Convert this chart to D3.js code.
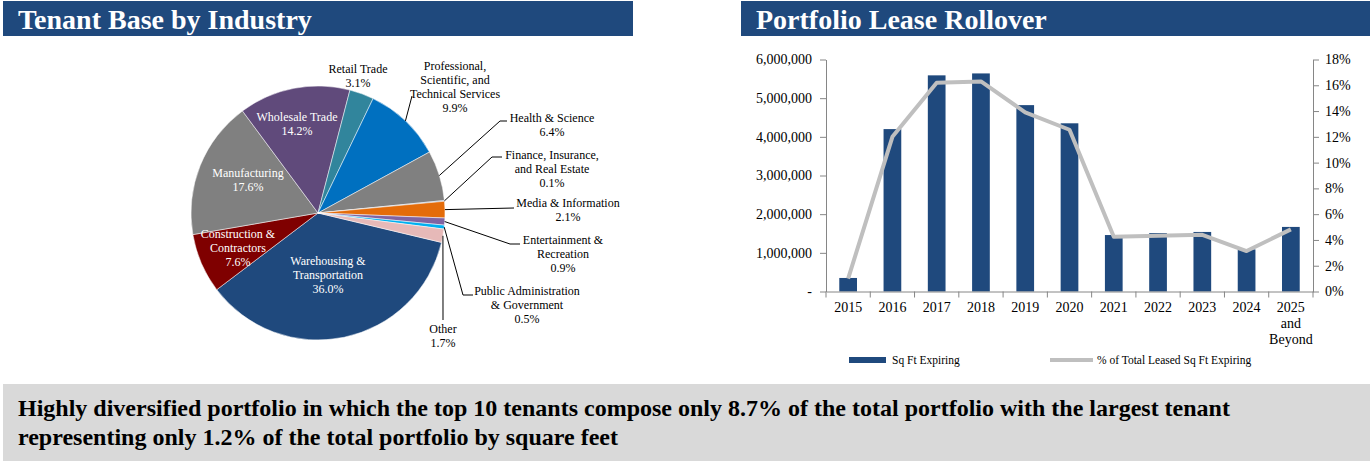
<!DOCTYPE html>
<meta charset="utf-8">
<style>
html, body { margin: 0; padding: 0; overflow: hidden; background: white; }
svg text { font-family: "Liberation Serif", "Times New Roman", serif; }
</style>
<body></body>
<script src="https://cdn.jsdelivr.net/npm/d3@7/dist/d3.min.js"></script>
<script>
var width = 1371, height = 465;

// ---- tenant base by industry (clockwise, Excel order) ----
var industries = ["Warehousing & Transportation", "Construction & Contractors", "Manufacturing",
                  "Wholesale Trade", "Retail Trade", "Professional, Scientific, and Technical Services",
                  "Health & Science", "Finance, Insurance, and Real Estate", "Media & Information",
                  "Entertainment & Recreation", "Public Administration & Government", "Other"];
var industry_lines = [["Warehousing &", "Transportation"], ["Construction &", "Contractors"], ["Manufacturing"],
                      ["Wholesale Trade"], ["Retail Trade"], ["Professional,", "Scientific, and", "Technical Services"],
                      ["Health & Science"], ["Finance, Insurance,", "and Real Estate"], ["Media & Information"],
                      ["Entertainment &", "Recreation"], ["Public Administration", "& Government"], ["Other"]];
var industry_pct = [36.0, 7.6, 17.6, 14.2, 3.1, 9.9, 6.4, 0.1, 2.1, 0.9, 0.5, 1.7];
var industry_colours = ["#1f497d", "#7f0000", "#808080", "#604a7b", "#31859c", "#0070c0",
                        "#808080", "#4f81bd", "#e46c0a", "#8064a2", "#00b0f0", "#e6b9b8"];

// ---- lease rollover ----
var years = ["2015", "2016", "2017", "2018", "2019", "2020", "2021", "2022", "2023", "2024", "2025 and Beyond"];
var sqft_expiring = [350000, 4200000, 5590000, 5640000, 4820000, 4350000, 1460000, 1510000, 1540000, 1090000, 1670000];
var pct_expiring = [1.0, 12.0, 16.2, 16.3, 13.9, 12.55, 4.25, 4.33, 4.4, 3.14, 4.82];
var sqft_ticks = [0, 1000000, 2000000, 3000000, 4000000, 5000000, 6000000];
var pct_ticks = [0, 2, 4, 6, 8, 10, 12, 14, 16, 18];

var navy = "#1f497d";

var svg = d3.select("body").append("svg")
    .attr("width", width)
    .attr("height", height);

// headers
function header(x, w, title) {
  svg.append("rect").attr("x", x).attr("y", 1).attr("width", w).attr("height", 35).attr("fill", navy);
  svg.append("text").attr("x", x + 15).attr("y", 29)
     .attr("fill", "white").style("font-weight", "bold").style("font-size", "28px")
     .text(title);
}
header(3, 630, "Tenant Base by Industry");
header(741, 629, "Portfolio Lease Rollover");

// ================= pie =================
var cx = 318, cy = 213, R = 127;
var pie_g = svg.append("g").attr("transform", "translate(" + cx + "," + cy + ")");

var pie = d3.pie().sort(null).value(function(d) { return d; })
    .startAngle(103.4 * Math.PI / 180)
    .endAngle(103.4 * Math.PI / 180 + 2 * Math.PI);
var arcs = pie(industry_pct);
var arc = d3.arc().innerRadius(0).outerRadius(R);

pie_g.selectAll("path.slice")
    .data(arcs)
    .enter().append("path")
    .attr("class", "slice")
    .attr("d", arc)
    .attr("fill", function(d, i) { return industry_colours[i]; })
    .attr("stroke", "white")
    .attr("stroke-width", 0.5);

function pct_text(v) { return v.toFixed(1) + "%"; }

var lh = 14;
function label_block(g, lines, x, y, fill) {
  var t = g.append("text").attr("text-anchor", "middle").style("font-size", "12px").attr("fill", fill);
  lines.forEach(function(l, k) {
    t.append("tspan").attr("x", x).attr("y", y + k * lh).text(l);
  });
}

// label spots as Excel placed them (relative to pie centre, first line), leaders start on the slice edge
var spots = {
  0:  {x: 10,  y: 48,   col: "white"},
  1:  {x: -80, y: 21,   col: "white"},
  2:  {x: -70, y: -40,  col: "white"},
  3:  {x: -21, y: -96,  col: "white"},
  4:  {x: 40,  y: -144, lead: null},
  5:  {x: 137, y: -147, lead: [[94, -117]]},
  6:  {x: 234, y: -95,  lead: [[182, -92], [189, -92]]},
  7:  {x: 234, y: -58,  lead: [[174, -56], [184, -56]]},
  8:  {x: 250, y: -10,  lead: [[196, -5]]},
  9:  {x: 245, y: 27,   lead: [[192, 31], [202, 31]]},
  10: {x: 209, y: 78,   lead: [[145, 82], [155, 82]]},
  11: {x: 125, y: 116,  lead: [[125, 107]]}
};
var edge = d3.arc().innerRadius(R).outerRadius(R);
arcs.forEach(function(a, i) {
  var o = spots[i];
  if (o.lead) {
    var pts = [edge.centroid(a)].concat(o.lead);
    pie_g.append("path")
        .attr("d", d3.line()(pts))
        .attr("fill", "none")
        .attr("stroke", "black")
        .attr("stroke-width", 1);
  }
  var lines = industry_lines[i].concat([pct_text(industry_pct[i])]);
  label_block(pie_g, lines, o.x, o.y + 4, o.col || "black");
});

// ================= bar + line =================
var x0 = 826, x1 = 1313, y0 = 291.5, y1 = 59.5;
var axis_grey = "#868686";

var x = d3.scaleBand().domain(years).range([x0, x1]);
var y = d3.scaleLinear().domain([0, 6000000]).range([y0, y1]);
var y2 = d3.scaleLinear().domain([0, 18]).range([y0, y1]);
var bar_w = x.bandwidth() * 0.4;

var plot = svg.append("g");

plot.selectAll("rect.bar")
    .data(sqft_expiring)
    .enter().append("rect")
    .attr("class", "bar")
    .attr("x", function(d, i) { return x(years[i]) + (x.bandwidth() - bar_w) / 2; })
    .attr("y", function(d) { return y(d); })
    .attr("width", bar_w)
    .attr("height", function(d) { return y0 - y(d); })
    .attr("fill", navy);

var line = d3.line()
    .x(function(d, i) { return x(years[i]) + x.bandwidth() / 2; })
    .y(function(d) { return y2(d); });

plot.append("path")
    .datum(pct_expiring)
    .attr("d", line)
    .attr("fill", "none")
    .attr("stroke", "#bfbfbf")
    .attr("stroke-width", 4)
    .attr("stroke-linejoin", "round");

// axes
var left_axis = svg.append("g").attr("transform", "translate(" + x0 + ",0)")
    .call(d3.axisLeft(y).tickValues(sqft_ticks).tickSize(6).tickSizeOuter(0).tickPadding(8)
          .tickFormat(function(d) { return d ? d3.format(",")(d) : "-"; }));
var right_axis = svg.append("g").attr("transform", "translate(" + x1 + ",0)")
    .call(d3.axisRight(y2).tickValues(pct_ticks).tickSize(6).tickSizeOuter(0).tickPadding(6)
          .tickFormat(function(d) { return d + "%"; }));
var bottom_axis = svg.append("g").attr("transform", "translate(0," + y0 + ")")
    .call(d3.axisBottom(x).tickSize(0).tickSizeOuter(0).tickPadding(9).tickFormat(""));

[left_axis, right_axis, bottom_axis].forEach(function(g) {
  g.selectAll("path, line").attr("stroke", axis_grey);
  g.selectAll("text").attr("fill", "black").style("font-size", "14px")
   .style("font-family", '"Liberation Serif", "Times New Roman", serif');
});

// category ticks at the band edges
var edges = years.map(function(d) { return x(d); }).concat([x1]);
bottom_axis.selectAll("line.edge")
    .data(edges)
    .enter().append("line")
    .attr("class", "edge")
    .attr("x1", function(d) { return d; })
    .attr("x2", function(d) { return d; })
    .attr("y1", 0).attr("y2", 6)
    .attr("stroke", axis_grey);

// category labels, last one wrapped
svg.selectAll("text.year")
    .data(years)
    .enter().append("text")
    .attr("class", "year")
    .attr("text-anchor", "middle")
    .style("font-size", "14px")
    .each(function(d) {
      var t = d3.select(this);
      var cxp = x(d) + x.bandwidth() / 2;
      d.split(" ").forEach(function(w, k) {
        t.append("tspan").attr("x", cxp).attr("y", 312 + k * 16).text(w);
      });
    });

// legend
svg.append("rect").attr("x", 849).attr("y", 357).attr("width", 37).attr("height", 6).attr("fill", navy);
svg.append("text").attr("x", 892).attr("y", 364).style("font-size", "11.5px").text("Sq Ft Expiring");
svg.append("line").attr("x1", 1050).attr("x2", 1093).attr("y1", 360).attr("y2", 360)
   .attr("stroke", "#bfbfbf").attr("stroke-width", 4);
svg.append("text").attr("x", 1097).attr("y", 364).style("font-size", "11.5px").text("% of Total Leased Sq Ft Expiring");

// ================= banner =================
svg.append("rect").attr("x", 3).attr("y", 384).attr("width", 1367).attr("height", 77).attr("fill", "#d9d9d9");
var banner = svg.append("text").attr("fill", "black").style("font-weight", "bold").style("font-size", "24px");
banner.append("tspan").attr("x", 18).attr("y", 416)
      .text("Highly diversified portfolio in which the top 10 tenants compose only 8.7% of the total portfolio with the largest tenant");
banner.append("tspan").attr("x", 18).attr("y", 445)
      .text("representing only 1.2% of the total portfolio by square feet");
</script>
